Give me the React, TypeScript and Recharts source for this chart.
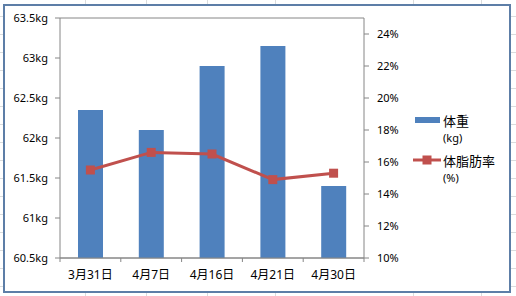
import React from "react";
import { ComposedChart, Bar, Line, XAxis, YAxis, CartesianGrid, Legend } from "recharts";

const dates = ["3月31日", "4月7日", "4月16日", "4月21日", "4月30日"];
const weight = [62.35, 62.1, 62.9, 63.15, 61.4];
const fatRate = [15.5, 16.6, 16.5, 14.9, 15.3];
const seriesNames = ["体重", "体脂肪率"];
const seriesUnits = ["(kg)", "(%)"];
const kgTicks = [60.5, 61, 61.5, 62, 62.5, 63, 63.5];
const pctTicks = [10, 12, 14, 16, 18, 20, 22, 24];

const data = dates.map((d, i) => ({ date: d, weight: weight[i], fat: fatRate[i] }));

const BLUE = "#4f81bd";
const RED = "#c0504d";
const AXIS = "#868686";
const FONT = "'Noto Sans', 'Noto Sans CJK JP', sans-serif";

// sheet cell lines behind the chart object
const sheetCols = [85, 146, 207, 275, 413, 481];

function DateTick(props: any) {
  const { x, y, payload, index, visibleTicksCount } = props;
  const half = payload.offset ?? 0;
  const top = y - 12;
  return (
    <g>
      <line x1={x - half} x2={x - half} y1={top} y2={top + 4} stroke={AXIS} />
      {index === visibleTicksCount - 1 && (
        <line x1={x + half} x2={x + half} y1={top} y2={top + 4} stroke={AXIS} />
      )}
      <text x={x} y={y} dy="0.71em" textAnchor="middle" fontSize={12} fill="#000" fontFamily={FONT}>
        {payload.value}
      </text>
    </g>
  );
}

function SquareDot(props: any) {
  const { cx, cy, index } = props;
  if (cx == null || cy == null) return null;
  return <rect key={index} x={cx - 4.5} y={cy - 4.5} width={9} height={9} fill={RED} />;
}

function LegendBox() {
  return (
    <div style={{ fontFamily: FONT, color: "#000" }}>
      {seriesNames.map((name, i) => (
        <div key={name} style={{ marginBottom: 4 }}>
          <div style={{ display: "flex", alignItems: "center", height: 20 }}>
            <svg width={30} height={12} style={{ display: "block" }}>
              {i === 0 ? (
                <rect x={2} y={3} width={25} height={6} fill={BLUE} />
              ) : (
                <g>
                  <line x1={0} x2={28} y1={6} y2={6} stroke={RED} strokeWidth={3} />
                  <rect x={9.5} y={1.5} width={9} height={9} fill={RED} />
                </g>
              )}
            </svg>
            <span style={{ fontSize: 13 }}>{name}</span>
          </div>
          <div style={{ paddingLeft: 30, fontSize: 11, lineHeight: "16px" }}>{seriesUnits[i]}</div>
        </div>
      ))}
    </div>
  );
}

export default function App() {
  return (
    <div
      style={{
        position: "absolute",
        left: 0,
        top: 0,
        width: 516,
        height: 296,
        overflow: "hidden",
        background:
          "repeating-linear-gradient(to bottom, #fff 0px, #fff 16px, #dadcdd 16px, #dadcdd 17px, #fff 17px, #fff 18px)",
      }}
    >
      {sheetCols.map((x) => (
        <div key={x} style={{ position: "absolute", left: x, top: 0, width: 1, height: 296, background: "#dadcdd" }} />
      ))}
      <div
        style={{
          position: "absolute",
          left: 3,
          top: 4,
          width: 508,
          height: 289,
          boxSizing: "border-box",
          border: "2px solid #5d7ea7",
          background: "#fff",
        }}
      />
      <div style={{ position: "absolute", left: 0, top: 0 }}>
        <ComposedChart width={516} height={296} data={data} margin={{ top: 18, right: 92, bottom: 8, left: 0 }}>
          <CartesianGrid vertical={false} stroke={AXIS} />
          <XAxis
            dataKey="date"
            height={30}
            tickLine={false}
            tickSize={4}
            tickMargin={8}
            stroke={AXIS}
            tick={<DateTick />}
            interval={0}
          />
          <YAxis
            yAxisId="kg"
            orientation="left"
            width={60}
            domain={[60.5, 63.5]}
            ticks={kgTicks}
            tickFormatter={(v) => `${v}kg`}
            tickSize={5}
            tickMargin={7}
            stroke={AXIS}
            tick={{ fontSize: 11, fill: "#000", fontFamily: FONT }}
            allowDataOverflow
          />
          <YAxis
            yAxisId="pct"
            orientation="right"
            width={60}
            domain={[10, 25]}
            ticks={pctTicks}
            tickFormatter={(v) => `${v}%`}
            tickSize={5}
            tickMargin={8}
            stroke={AXIS}
            tick={{ fontSize: 11, fill: "#000", fontFamily: FONT, textAnchor: "start" }}
            allowDataOverflow
          />
          <Legend
            layout="horizontal"
            align="center"
            verticalAlign="middle"
            wrapperStyle={{ left: 413, top: 110, width: 100 }}
            content={() => <LegendBox />}
          />
          <Bar yAxisId="kg" dataKey="weight" name={seriesNames[0]} fill={BLUE} barSize={25} isAnimationActive={false} />
          <Line
            yAxisId="pct"
            dataKey="fat"
            name={seriesNames[1]}
            stroke={RED}
            strokeWidth={3}
            dot={<SquareDot />}
            activeDot={false}
            isAnimationActive={false}
          />
        </ComposedChart>
      </div>
    </div>
  );
}
